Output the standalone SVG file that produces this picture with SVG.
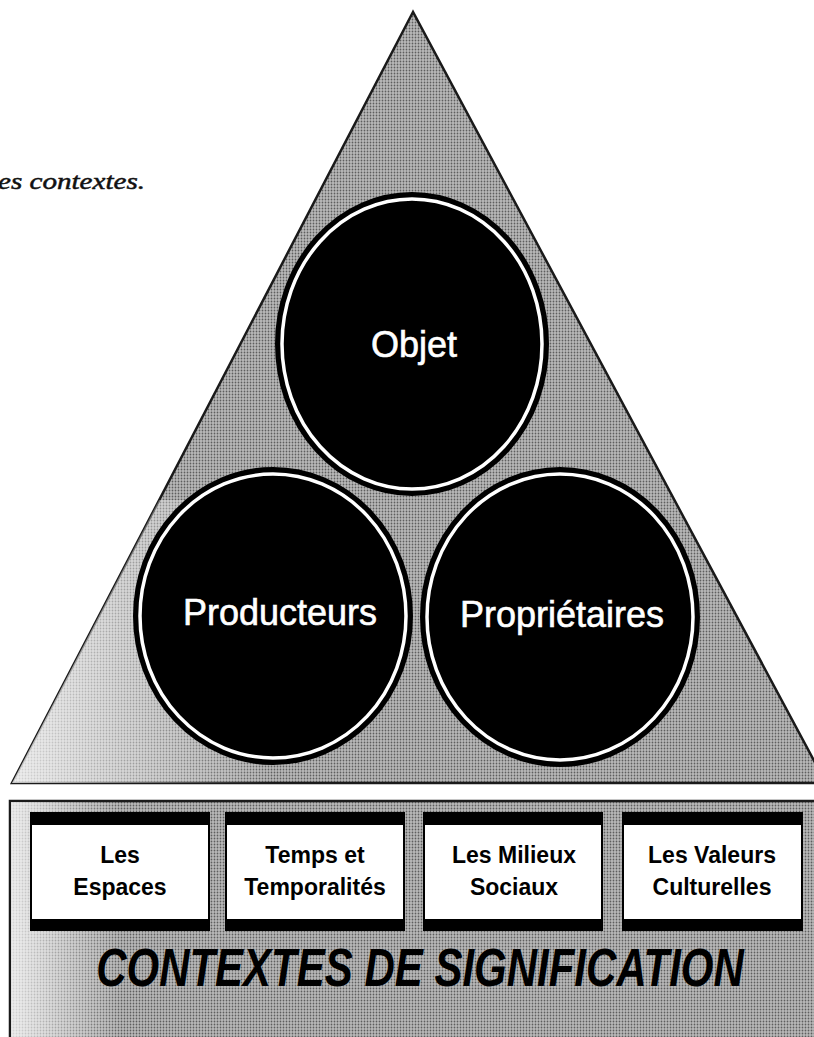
<svg xmlns="http://www.w3.org/2000/svg" width="814" height="1037" viewBox="0 0 814 1037">
  <defs>
    <pattern id="ht" width="3" height="3" patternUnits="userSpaceOnUse">
      <rect width="3" height="3" fill="#bababa"/>
      <circle cx="1.5" cy="1.5" r="0.9" fill="#5e5e5e"/>
    </pattern>
    <linearGradient id="fadeL" x1="0" y1="0" x2="1" y2="0">
      <stop offset="0" stop-color="#ffffff" stop-opacity="0.75"/>
      <stop offset="1" stop-color="#ffffff" stop-opacity="0"/>
    </linearGradient>
    <clipPath id="triClip">
      <polygon points="413,12 12,783 826,783"/>
    </clipPath>
    <style>
      .lbl { font-family: "Liberation Sans", Arial, sans-serif; font-size: 36px; fill: #ffffff; stroke: #ffffff; stroke-width: 0.6; text-anchor: middle; }
      .box { font-family: "Liberation Sans", Arial, sans-serif; font-size: 23px; font-weight: bold; fill: #000; text-anchor: middle; }
      .disc { fill: #000; stroke: #000; stroke-width: 4; }
      .ring { fill: none; stroke: #ffffff; stroke-width: 3.5; }
      .shadow { fill: #000; }
      .paper { fill: #ffffff; }
    </style>
  </defs>

  <rect width="814" height="1037" fill="#ffffff"/>

  <text x="-2" y="189" font-family="'Liberation Serif', 'Times New Roman', serif" font-style="italic" font-size="24" fill="#111" stroke="#111" stroke-width="0.5" textLength="147" lengthAdjust="spacingAndGlyphs">es contextes.</text>

  <g id="triangle">
    <polygon points="413,12 12,783 826,783" fill="url(#ht)" stroke="#1a1a1a" stroke-width="2.5"/>
    <rect x="12" y="500" width="260" height="283" fill="url(#fadeL)" clip-path="url(#triClip)"/>
  </g>

  <g id="objet">
    <ellipse class="disc" cx="412" cy="344" rx="135" ry="150"/>
    <ellipse class="ring" cx="412" cy="344" rx="130" ry="145"/>
    <text class="lbl" x="414" y="357">Objet</text>
  </g>

  <g id="producteurs">
    <ellipse class="disc" cx="273" cy="616" rx="138" ry="147"/>
    <ellipse class="ring" cx="273" cy="616" rx="133" ry="142"/>
    <text class="lbl" x="280" y="625">Producteurs</text>
  </g>

  <g id="proprietaires">
    <ellipse class="disc" cx="560" cy="617" rx="138" ry="148"/>
    <ellipse class="ring" cx="560" cy="617" rx="133" ry="143"/>
    <text class="lbl" x="562" y="627">Propriétaires</text>
  </g>

  <g id="contextes">
    <rect x="10" y="801" width="820" height="250" fill="url(#ht)" stroke="#1a1a1a" stroke-width="2.5"/>
    <rect x="11" y="802" width="110" height="240" fill="url(#fadeL)"/>
    <text transform="translate(420,986) scale(1,1.28)" x="0" y="0" font-family="'Liberation Sans', Arial, sans-serif" font-size="42" font-weight="bold" font-style="italic" fill="#000" text-anchor="middle">CONTEXTES DE SIGNIFICATION</text>
  </g>

  <g id="espaces">
    <rect class="shadow" x="30" y="812" width="180" height="119"/>
    <rect class="paper" x="32" y="825" width="176" height="94"/>
    <text class="box" x="120" y="863">Les</text>
    <text class="box" x="120" y="895">Espaces</text>
  </g>

  <g id="temps">
    <rect class="shadow" x="225" y="812" width="180" height="119"/>
    <rect class="paper" x="227" y="825" width="176" height="94"/>
    <text class="box" x="315" y="863">Temps et</text>
    <text class="box" x="315" y="895">Temporalités</text>
  </g>

  <g id="milieux">
    <rect class="shadow" x="423" y="812" width="180" height="119"/>
    <rect class="paper" x="425" y="825" width="176" height="94"/>
    <text class="box" x="514" y="863">Les Milieux</text>
    <text class="box" x="514" y="895">Sociaux</text>
  </g>

  <g id="valeurs">
    <rect class="shadow" x="622" y="812" width="181" height="119"/>
    <rect class="paper" x="624" y="825" width="177" height="94"/>
    <text class="box" x="712" y="863">Les Valeurs</text>
    <text class="box" x="712" y="895">Culturelles</text>
  </g>

  <g id="connectors"/>
</svg>
